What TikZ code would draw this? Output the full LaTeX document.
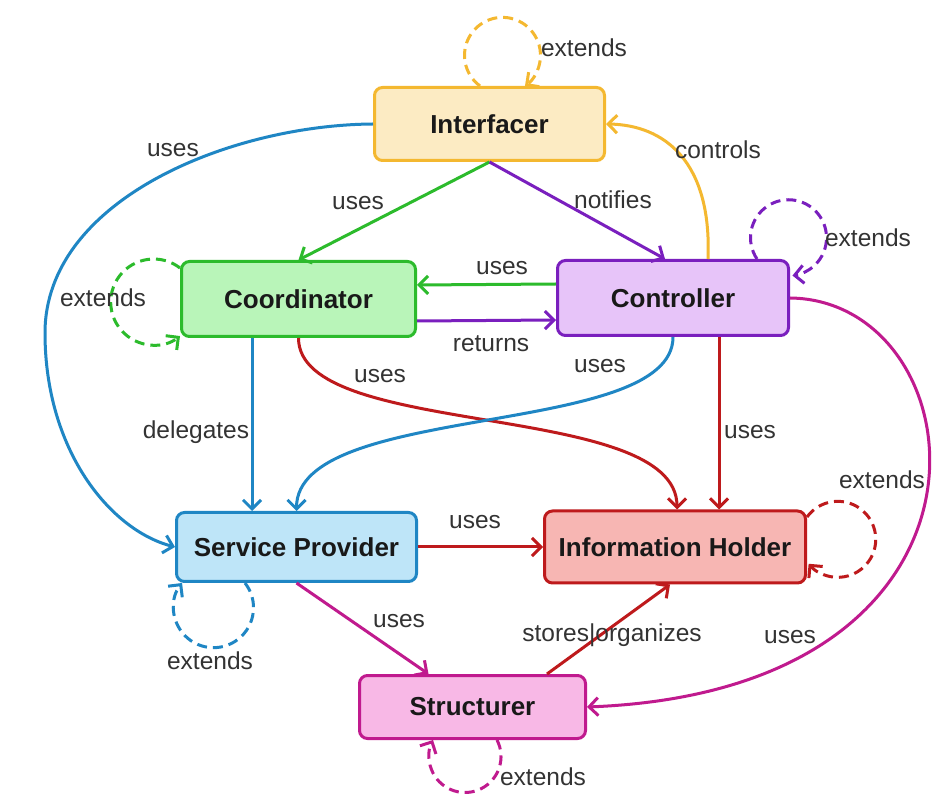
\documentclass[tikz,border=0pt]{standalone}
\usepackage{fontspec}
\setmainfont{Liberation Sans}
\usetikzlibrary{arrows.meta}

\definecolor{ybd}{HTML}{F4B830}
\definecolor{yfl}{HTML}{FCEBC3}
\definecolor{gbd}{HTML}{2CBB2C}
\definecolor{gfl}{HTML}{B9F5B9}
\definecolor{pbd}{HTML}{7A1FBE}
\definecolor{pfl}{HTML}{E7C4F9}
\definecolor{bbd}{HTML}{1F86C4}
\definecolor{bfl}{HTML}{BEE5F8}
\definecolor{rbd}{HTML}{BE1A1C}
\definecolor{rfl}{HTML}{F7B6B3}
\definecolor{mbd}{HTML}{C01A8E}
\definecolor{mfl}{HTML}{F8B8E6}
\definecolor{lblgray}{HTML}{333333}

\begin{document}
\begin{tikzpicture}[x=1pt,y=1pt,
  box/.style={rounded corners=8pt, line width=3pt, inner sep=0pt,
    font=\fontsize{26}{30}\selectfont\bfseries, text=black!90},
  conn/.style={line width=3pt, -{Straight Barb[length=9pt,width=18pt]}},
  selfloop/.style={conn, dash pattern=on 10pt off 6pt},
  lbl/.style={font=\fontsize{24.5}{28}\selectfont, text=lblgray, inner sep=1pt}]

\useasboundingbox (0,0) rectangle (932,796);
\fill[white] (0,0) rectangle (932,796);

% components
\node[box, draw=ybd, fill=yfl, minimum width=230pt, minimum height=73pt] (intf) at (489.5,672) {Interfacer};
\node[box, draw=gbd, fill=gfl, minimum width=234pt, minimum height=75pt] (coord) at (298.5,497) {Coordinator};
\node[box, draw=pbd, fill=pfl, minimum width=231pt, minimum height=75pt] (ctrl) at (673,498) {Controller};
\node[box, draw=bbd, fill=bfl, minimum width=240pt, minimum height=69pt] (sp) at (296.5,249) {Service Provider};
\node[box, draw=rbd, fill=rfl, minimum width=261pt, minimum height=72pt] (ih) at (675,249) {Information Holder};
\node[box, draw=mbd, fill=mfl, minimum width=226pt, minimum height=63pt] (str) at (472.5,89) {Structurer};

% self references
\draw[selfloop, ybd] ([xshift=-9.5pt]intf.north) arc[start angle=233.7, end angle=-53.7, radius=38];
\draw[selfloop, gbd] ([yshift=31pt]coord.west) arc[start angle=52.3, end angle=307.7, radius=43];
\draw[selfloop, pbd] ([xshift=84pt]ctrl.north) arc[start angle=214, end angle=-84, radius=38];
\draw[selfloop, rbd] ([yshift=30pt]ih.east) arc[start angle=144, end angle=-140, radius=38];
\draw[selfloop, bbd] ([xshift=-51.5pt]sp.south) arc[start angle=38.1, end angle=-218.1, radius=40];
\draw[selfloop, mbd] ([xshift=24.5pt]str.south) arc[start angle=27.3, end angle=-207.3, radius=36];

\node[lbl] (lx1) at (584,748) {extends};
\node[lbl] (lx2) at (868,558) {extends};
\node[lbl] (lx3) at (103,498) {extends};
\node[lbl] (lx4) at (882,316) {extends};
\node[lbl] (lx5) at (210,135) {extends};
\node[lbl] (lx6) at (543,19) {extends};

% relations
\draw[conn, gbd] (intf.south) -- (coord.north);
\draw[conn, pbd] (intf.south) -- ([xshift=-8pt]ctrl.north);
\draw[conn, ybd] ([xshift=35pt]ctrl.north) .. controls +(4,98) and +(58,-1) .. (intf.east);
\coordinate (leftbend) at (45,463);
\draw[conn, bbd] (intf.west) .. controls (230,671) and (45,596) .. (leftbend)
  .. controls (45,346) and (110,266) .. (sp.west);
\draw[conn, gbd] ([yshift=14pt]ctrl.west) -- ([yshift=14pt]coord.east);
\draw[conn, pbd] ([yshift=-22pt]coord.east) -- ([yshift=-22pt]ctrl.west);
\draw[conn, bbd] ([xshift=-46.5pt]coord.south) -- ([xshift=-44.5pt]sp.north);
\draw[conn, rbd] (coord.south) .. controls +(0,-102) and +(0,110) .. ([xshift=2pt]ih.north);
\draw[conn, bbd] (ctrl.south) .. controls +(0,-102) and +(0,110) .. (sp.north);
\draw[conn, rbd] ([xshift=46pt]ctrl.south) -- ([xshift=44pt]ih.north);
\draw[conn, mbd] (ctrl.east) .. controls +(190,-2) and +(443,17) .. (str.east);
\draw[conn, rbd] (sp.east) -- (ih.west);
\draw[conn, mbd] (sp.south) -- ([xshift=-44pt]str.north);
\draw[conn, rbd] ([xshift=74.5pt]str.north) -- ([xshift=-5pt]ih.south);

\node[lbl] (l1) at (358,593) {uses};
\node[lbl] (l2) at (613,596) {notifies};
\node[lbl] (l3) at (718,646) {controls};
\node[lbl] (l4) at (173,646) {uses};
\node[lbl] (l5) at (502,528) {uses};
\node[lbl] (l6) at (491,452) {returns};
\node[lbl] (l7) at (196,364) {delegates};
\node[lbl] (l8) at (380,420) {uses};
\node[lbl] (l9) at (600,430) {uses};
\node[lbl] (l10) at (750,364) {uses};
\node[lbl] (l11) at (475,274) {uses};
\node[lbl] (l12) at (399,175) {uses};
\node[lbl] (l13) at (612,161) {stores|organizes};
\node[lbl] (l14) at (790,159) {uses};
\end{tikzpicture}
\end{document}
